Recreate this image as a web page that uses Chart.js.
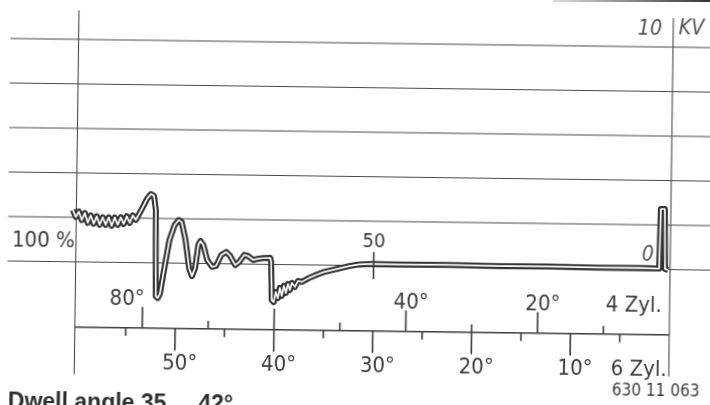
<!DOCTYPE html>
<html>
<head>
<meta charset="utf-8">
<script src="https://cdn.jsdelivr.net/npm/chart.js@4.4.0/dist/chart.umd.min.js"></script>
<style>
  html, body { margin: 0; padding: 0; background: #fff; overflow: hidden; }
  body { width: 710px; height: 405px; position: relative; }
  /* scanned sheet sits slightly skewed */
  #scope { position: absolute; left: -25px; top: -25px; transform: rotate(0.75deg); }
  .scanbar { position: absolute; top: 0; left: 553px; width: 157px; height: 2px;
             background: linear-gradient(to right, #ddd, #333); }
</style>
</head>
<body>
<canvas id="scope" width="760" height="455"></canvas>
<div class="scanbar"></div>
<script>
// secondary voltage trace, x = crank degrees (6 cyl scale), y = kV
const traceDeg = [60.51, 60.20, 59.90, 59.60, 59.29, 58.99, 58.69, 58.38, 58.08, 57.78,
  57.47, 57.17, 56.87, 56.56, 56.26, 55.95, 55.65, 55.35, 55.04, 54.74,
  54.44, 54.13, 53.83, 53.43, 53.02, 52.62, 52.31, 52.11, 52.01, 51.81,
  51.60, 51.20, 50.69, 50.19, 49.78, 49.48, 49.07, 48.67, 48.37, 48.06,
  47.76, 47.56, 47.25, 46.85, 46.34, 45.94, 45.43, 44.93, 44.52, 44.01,
  43.61, 43.10, 42.70, 42.19, 41.79, 41.18, 40.47, 40.37, 40.27, 40.07,
  39.87, 39.66, 39.46, 39.26, 39.06, 38.85, 38.65, 38.45, 38.25, 37.94,
  37.64, 37.24, 36.53, 35.82, 35.01, 34.20, 33.29, 32.48, 31.47, 30.15,
  27.42, 22.36, 17.30, 12.24, 7.18, 3.14, 1.11, 1.01, 0.61, 0.51, 0.20];
const traceKV = [2.33, 2.02, 2.26, 1.88, 2.20, 1.76, 2.10, 1.72, 2.06, 1.68,
  2.02, 1.68, 2.02, 1.64, 2.02, 1.69, 2.03, 1.73, 2.08, 1.78,
  2.12, 1.92, 2.16, 2.50, 2.87, 3.09, 3.01, 2.38, -1.49, -1.58,
  -1.40, -0.31, 1.04, 1.71, 1.94, 1.85, 1.05, -0.21, -0.57, -0.21,
  0.83, 1.01, 0.83, 0.16, -0.15, -0.10, 0.39, 0.53, 0.35, -0.05,
  0.09, 0.41, 0.36, 0.19, 0.24, 0.28, 0.29, 0.11, -1.60, -1.69,
  -1.24, -1.51, -1.05, -1.41, -0.96, -1.28, -0.87, -1.14, -0.82, -1.00,
  -0.73, -0.77, -0.59, -0.45, -0.31, -0.22, -0.12, -0.03, 0.05, 0.08,
  0.07, 0.08, 0.06, 0.07, 0.05, 0.06, 0.04, 2.72, 2.72, 0.03, -0.02];

const kvGrid = [0, 2, 4, 6, 8, 10];
const sixCylTicks = [55, 50, 45, 40, 35, 30, 25, 20, 15, 10, 5];
const sixCylLabels = [50, 40, 30, 20, 10];
const fourCylTicks = [80, 70, 60, 50, 40, 30, 20, 10];
const fourCylLabels = [80, 40, 20];

const tracePoints = traceDeg.map((d, i) => ({ x: d, y: traceKV[i] }));

const ink = '#3b3b3b';
const family = "'DejaVu Sans Condensed', 'Liberation Sans Narrow', sans-serif";

const scopeDecor = {
  id: 'scopeDecor',
  beforeDatasetsDraw(chart) {
    const { ctx } = chart;
    const x = chart.scales.x, y = chart.scales.y;
    ctx.save();
    ctx.strokeStyle = '#4a4a4a';
    ctx.lineWidth = 1.1;
    // kV grid lines
    kvGrid.forEach(v => {
      const py = y.getPixelForValue(v);
      ctx.beginPath();
      ctx.moveTo(x.getPixelForValue(67.05), py);
      ctx.lineTo(x.right, py);
      ctx.stroke();
    });
    // left and right frame lines
    ctx.beginPath();
    ctx.moveTo(x.getPixelForValue(60.15), y.getPixelForValue(11.3));
    ctx.lineTo(x.getPixelForValue(60.15), y.getPixelForValue(-5.05));
    ctx.moveTo(x.getPixelForValue(0), y.getPixelForValue(11.3));
    ctx.lineTo(x.getPixelForValue(0), y.getPixelForValue(-4.81));
    ctx.stroke();
    ctx.restore();
  },
  afterDatasetsDraw(chart) {
    const { ctx } = chart;
    const x = chart.scales.x, x4 = chart.scales.x4, y = chart.scales.y;
    const rulerY = y.getPixelForValue(-2.93);
    ctx.save();
    ctx.strokeStyle = ink;
    ctx.fillStyle = ink;
    ctx.lineWidth = 1.6;

    // degree ruler
    ctx.beginPath();
    ctx.moveTo(x.getPixelForValue(60.15), rulerY);
    ctx.lineTo(x.getPixelForValue(0), rulerY);
    // 4 cyl ticks above
    fourCylTicks.forEach(v => {
      const px = x4.getPixelForValue(v);
      const len = v % 20 === 0 ? 21 : 8;
      ctx.moveTo(px, rulerY);
      ctx.lineTo(px, rulerY - len);
    });
    // 6 cyl ticks below
    sixCylTicks.forEach(v => {
      const px = x.getPixelForValue(v);
      const len = v % 10 === 0 ? 22 : 8;
      ctx.moveTo(px, rulerY);
      ctx.lineTo(px, rulerY + len);
    });
    // 50 % mark on trace
    ctx.moveTo(x.getPixelForValue(30), y.getPixelForValue(0.62));
    ctx.lineTo(x.getPixelForValue(30), y.getPixelForValue(-0.60));
    ctx.stroke();

    ctx.font = '22px ' + family;
    ctx.textBaseline = 'alphabetic';
    fourCylLabels.forEach(v => {
      const px = x4.getPixelForValue(v);
      if (v === fourCylLabels[0]) {
        ctx.textAlign = 'right';
        ctx.fillText(v + '°', px + 2, rulerY - 23);
      } else {
        ctx.textAlign = 'left';
        const w = ctx.measureText(String(v)).width;
        ctx.fillText(v + '°', px - w / 2, rulerY - 23);
      }
    });
    sixCylLabels.forEach(v => {
      const px = x.getPixelForValue(v);
      ctx.textAlign = 'left';
      const w = ctx.measureText(String(v)).width;
      ctx.fillText(v + '°', px - w / 2, rulerY + 41);
    });
    ctx.textAlign = 'right';
    ctx.fillText('4 Zyl.', x.getPixelForValue(0.81), rulerY - 23);
    ctx.fillText('6 Zyl.', x.getPixelForValue(0.22), rulerY + 41);

    ctx.textAlign = 'left';
    ctx.textBaseline = 'middle';
    ctx.font = '22px ' + family;
    ctx.fillText('100 %', x.getPixelForValue(66.63), y.getPixelForValue(0.89));

    ctx.textAlign = 'center';
    ctx.font = '20px ' + family;
    ctx.fillText('50', x.getPixelForValue(30.0), y.getPixelForValue(1.08));

    ctx.fillStyle = '#505050';
    ctx.font = 'italic 21px ' + family;
    ctx.fillText('0', x.getPixelForValue(2.26), y.getPixelForValue(0.64));
    ctx.fillText('10', x.getPixelForValue(2.36), y.getPixelForValue(10.80));
    ctx.fillText('KV', x.getPixelForValue(-1.84), y.getPixelForValue(10.83));

    ctx.fillStyle = ink;
    ctx.textAlign = 'left';
    ctx.textBaseline = 'alphabetic';
    ctx.font = '17px ' + family;
    ctx.fillText('630 11 063', x.getPixelForValue(5.73), y.getPixelForValue(-5.69));

    ctx.fillStyle = '#2e2e2e';
    ctx.font = "bold 23px 'Liberation Sans', Arial, sans-serif";
    ctx.fillText('Dwell angle 35 ... 42°', x.getPixelForValue(66.82), y.getPixelForValue(-6.62));
    ctx.restore();
  }
};

new Chart(document.getElementById('scope'), {
  type: 'line',
  data: {
    datasets: [
      { data: tracePoints, xAxisID: 'x', yAxisID: 'y', order: 0,
        borderColor: '#ffffff', borderWidth: 1.7, borderJoinStyle: 'round',
        pointRadius: 0, tension: 0, fill: false },
      { data: tracePoints, xAxisID: 'x', yAxisID: 'y', order: 1,
        borderColor: '#333333', borderWidth: 6, borderJoinStyle: 'round',
        pointRadius: 0, tension: 0, fill: false }
    ]
  },
  options: {
    responsive: false,
    animation: false,
    events: [],
    layout: { padding: 0 },
    plugins: { legend: { display: false }, tooltip: { enabled: false } },
    scales: {
      x: { type: 'linear', reverse: true, min: -6.48, max: 70.42, display: false },
      x4: { type: 'linear', axis: 'x', reverse: true, min: -9.72, max: 105.63, display: false },
      y: { type: 'linear', min: -7.393, max: 13.056, display: false }
    }
  },
  plugins: [scopeDecor]
});
</script>
</body>
</html>
